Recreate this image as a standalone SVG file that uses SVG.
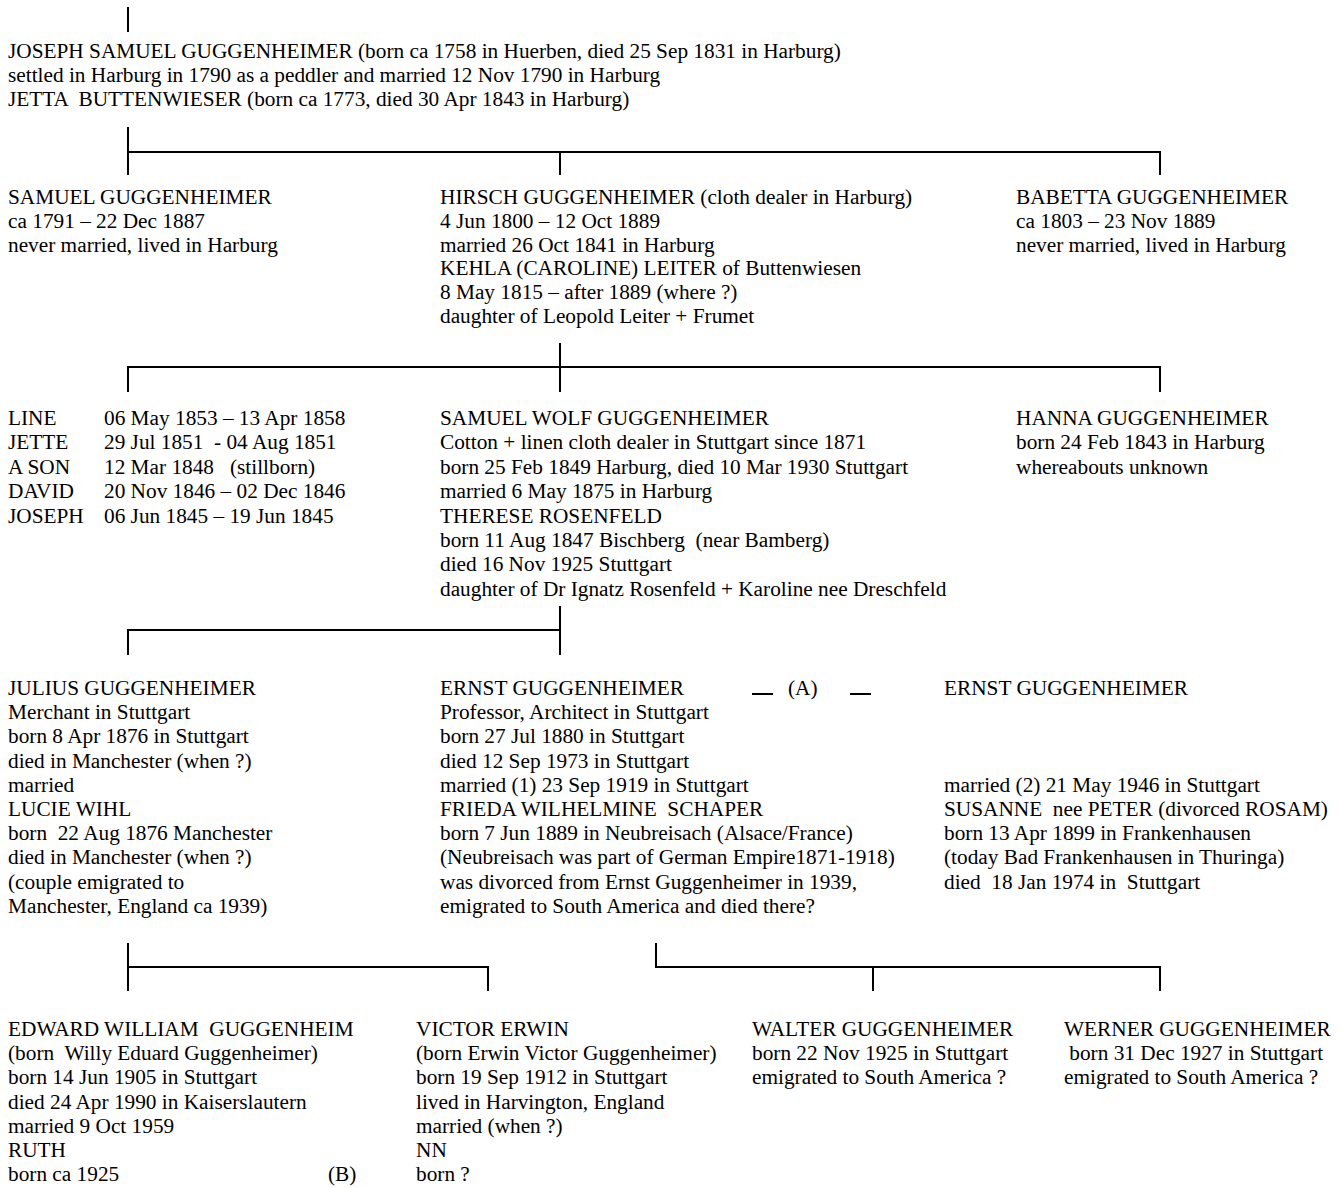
<svg xmlns="http://www.w3.org/2000/svg" width="1341" height="1188" viewBox="0 0 1341 1188">
<style>
text{font-family:"Liberation Serif","Times New Roman",serif;font-size:21.3px;fill:#000;white-space:pre}
.c line{stroke:#000;stroke-width:2}
</style>
<rect width="1341" height="1188" fill="#fff"/>
<g class="c" id="connectors">
<line x1="128" y1="7" x2="128" y2="32"/>
<line x1="128" y1="127" x2="128" y2="175"/>
<line x1="127" y1="152" x2="1161" y2="152"/>
<line x1="560" y1="152" x2="560" y2="175"/>
<line x1="1160" y1="152" x2="1160" y2="175"/>
<line x1="560" y1="343" x2="560" y2="392"/>
<line x1="127" y1="367" x2="1161" y2="367"/>
<line x1="128" y1="367" x2="128" y2="392"/>
<line x1="1160" y1="367" x2="1160" y2="392"/>
<line x1="560" y1="606" x2="560" y2="655"/>
<line x1="127" y1="630" x2="561" y2="630"/>
<line x1="128" y1="630" x2="128" y2="655"/>
<line x1="128" y1="943" x2="128" y2="991"/>
<line x1="127" y1="967" x2="489" y2="967"/>
<line x1="488" y1="967" x2="488" y2="991"/>
<line x1="656" y1="943" x2="656" y2="967"/>
<line x1="655" y1="967" x2="1161" y2="967"/>
<line x1="873" y1="967" x2="873" y2="991"/>
<line x1="1160" y1="967" x2="1160" y2="991"/>
<line x1="752" y1="694" x2="773" y2="694"/>
<line x1="850" y1="694" x2="871" y2="694"/>
</g>
<g id="joseph"><text xml:space="preserve" x="8" y="58"><tspan x="8">JOSEPH SAMUEL GUGGENHEIMER (born ca 1758 in Huerben, died 25 Sep 1831 in Harburg)</tspan><tspan x="8" dy="23.8">settled in Harburg in 1790 as a peddler and married 12 Nov 1790 in Harburg</tspan><tspan x="8" dy="23.8">JETTA  BUTTENWIESER (born ca 1773, died 30 Apr 1843 in Harburg)</tspan></text></g>
<g id="samuel"><text xml:space="preserve" x="8" y="204"><tspan x="8">SAMUEL GUGGENHEIMER</tspan><tspan x="8" dy="23.8">ca 1791 – 22 Dec 1887</tspan><tspan x="8" dy="23.8">never married, lived in Harburg</tspan></text></g>
<g id="hirsch"><text xml:space="preserve" x="440" y="204"><tspan x="440">HIRSCH GUGGENHEIMER (cloth dealer in Harburg)</tspan><tspan x="440" dy="23.8">4 Jun 1800 – 12 Oct 1889</tspan><tspan x="440" dy="23.8">married 26 Oct 1841 in Harburg</tspan><tspan x="440" dy="23.8">KEHLA (CAROLINE) LEITER of Buttenwiesen</tspan><tspan x="440" dy="23.8">8 May 1815 – after 1889 (where ?)</tspan><tspan x="440" dy="23.8">daughter of Leopold Leiter + Frumet</tspan></text></g>
<g id="babetta"><text xml:space="preserve" x="1016" y="204"><tspan x="1016">BABETTA GUGGENHEIMER</tspan><tspan x="1016" dy="23.8">ca 1803 – 23 Nov 1889</tspan><tspan x="1016" dy="23.8">never married, lived in Harburg</tspan></text></g>
<g id="children-died-young"><text xml:space="preserve" x="8" y="425"><tspan x="8">LINE</tspan><tspan x="8" dy="24.4">JETTE</tspan><tspan x="8" dy="24.4">A SON</tspan><tspan x="8" dy="24.4">DAVID</tspan><tspan x="8" dy="24.4">JOSEPH</tspan></text><text xml:space="preserve" x="104" y="425"><tspan x="104">06 May 1853 – 13 Apr 1858</tspan><tspan x="104" dy="24.4">29 Jul 1851  - 04 Aug 1851</tspan><tspan x="104" dy="24.4">12 Mar 1848   (stillborn)</tspan><tspan x="104" dy="24.4">20 Nov 1846 – 02 Dec 1846</tspan><tspan x="104" dy="24.4">06 Jun 1845 – 19 Jun 1845</tspan></text></g>
<g id="samuel-wolf"><text xml:space="preserve" x="440" y="425"><tspan x="440">SAMUEL WOLF GUGGENHEIMER</tspan><tspan x="440" dy="24.4">Cotton + linen cloth dealer in Stuttgart since 1871</tspan><tspan x="440" dy="24.4">born 25 Feb 1849 Harburg, died 10 Mar 1930 Stuttgart</tspan><tspan x="440" dy="24.4">married 6 May 1875 in Harburg</tspan><tspan x="440" dy="24.4">THERESE ROSENFELD</tspan><tspan x="440" dy="24.4">born 11 Aug 1847 Bischberg  (near Bamberg)</tspan><tspan x="440" dy="24.4">died 16 Nov 1925 Stuttgart</tspan><tspan x="440" dy="24.4">daughter of Dr Ignatz Rosenfeld + Karoline nee Dreschfeld</tspan></text></g>
<g id="hanna"><text xml:space="preserve" x="1016" y="425"><tspan x="1016">HANNA GUGGENHEIMER</tspan><tspan x="1016" dy="24.4">born 24 Feb 1843 in Harburg</tspan><tspan x="1016" dy="24.4">whereabouts unknown</tspan></text></g>
<g id="julius"><text xml:space="preserve" x="8" y="695"><tspan x="8">JULIUS GUGGENHEIMER</tspan><tspan x="8" dy="24.2">Merchant in Stuttgart</tspan><tspan x="8" dy="24.2">born 8 Apr 1876 in Stuttgart</tspan><tspan x="8" dy="24.2">died in Manchester (when ?)</tspan><tspan x="8" dy="24.2">married</tspan><tspan x="8" dy="24.2">LUCIE WIHL</tspan><tspan x="8" dy="24.2">born  22 Aug 1876 Manchester</tspan><tspan x="8" dy="24.2">died in Manchester (when ?)</tspan><tspan x="8" dy="24.2">(couple emigrated to</tspan><tspan x="8" dy="24.2">Manchester, England ca 1939)</tspan></text></g>
<g id="ernst-1"><text xml:space="preserve" x="440" y="695"><tspan x="440">ERNST GUGGENHEIMER</tspan><tspan x="440" dy="24.2">Professor, Architect in Stuttgart</tspan><tspan x="440" dy="24.2">born 27 Jul 1880 in Stuttgart</tspan><tspan x="440" dy="24.2">died 12 Sep 1973 in Stuttgart</tspan><tspan x="440" dy="24.2">married (1) 23 Sep 1919 in Stuttgart</tspan><tspan x="440" dy="24.2">FRIEDA WILHELMINE  SCHAPER</tspan><tspan x="440" dy="24.2">born 7 Jun 1889 in Neubreisach (Alsace/France)</tspan><tspan x="440" dy="24.2">(Neubreisach was part of German Empire1871-1918)</tspan><tspan x="440" dy="24.2">was divorced from Ernst Guggenheimer in 1939,</tspan><tspan x="440" dy="24.2">emigrated to South America and died there?</tspan></text></g>
<g id="ref-a"><text xml:space="preserve" x="788" y="695">(A)</text></g>
<g id="ernst-2"><text xml:space="preserve" x="944" y="695"><tspan x="944">ERNST GUGGENHEIMER</tspan><tspan x="944" dy="96.8">married (2) 21 May 1946 in Stuttgart</tspan><tspan x="944" dy="24.2">SUSANNE  nee PETER (divorced ROSAM)</tspan><tspan x="944" dy="24.2">born 13 Apr 1899 in Frankenhausen</tspan><tspan x="944" dy="24.2">(today Bad Frankenhausen in Thuringa)</tspan><tspan x="944" dy="24.2">died  18 Jan 1974 in  Stuttgart</tspan></text></g>
<g id="edward"><text xml:space="preserve" x="8" y="1036"><tspan x="8">EDWARD WILLIAM  GUGGENHEIM</tspan><tspan x="8" dy="24.2">(born  Willy Eduard Guggenheimer)</tspan><tspan x="8" dy="24.2">born 14 Jun 1905 in Stuttgart</tspan><tspan x="8" dy="24.2">died 24 Apr 1990 in Kaiserslautern</tspan><tspan x="8" dy="24.2">married 9 Oct 1959</tspan><tspan x="8" dy="24.2">RUTH</tspan><tspan x="8" dy="24.2">born ca 1925</tspan></text><text xml:space="preserve" x="328" y="1181">(B)</text></g>
<g id="victor"><text xml:space="preserve" x="416" y="1036"><tspan x="416">VICTOR ERWIN</tspan><tspan x="416" dy="24.2">(born Erwin Victor Guggenheimer)</tspan><tspan x="416" dy="24.2">born 19 Sep 1912 in Stuttgart</tspan><tspan x="416" dy="24.2">lived in Harvington, England</tspan><tspan x="416" dy="24.2">married (when ?)</tspan><tspan x="416" dy="24.2">NN</tspan><tspan x="416" dy="24.2">born ?</tspan></text></g>
<g id="walter"><text xml:space="preserve" x="752" y="1036"><tspan x="752">WALTER GUGGENHEIMER</tspan><tspan x="752" dy="24.2">born 22 Nov 1925 in Stuttgart</tspan><tspan x="752" dy="24.2">emigrated to South America ?</tspan></text></g>
<g id="werner"><text xml:space="preserve" x="1064" y="1036"><tspan x="1064">WERNER GUGGENHEIMER</tspan><tspan x="1064" dy="24.2"> born 31 Dec 1927 in Stuttgart</tspan><tspan x="1064" dy="24.2">emigrated to South America ?</tspan></text></g>
</svg>
